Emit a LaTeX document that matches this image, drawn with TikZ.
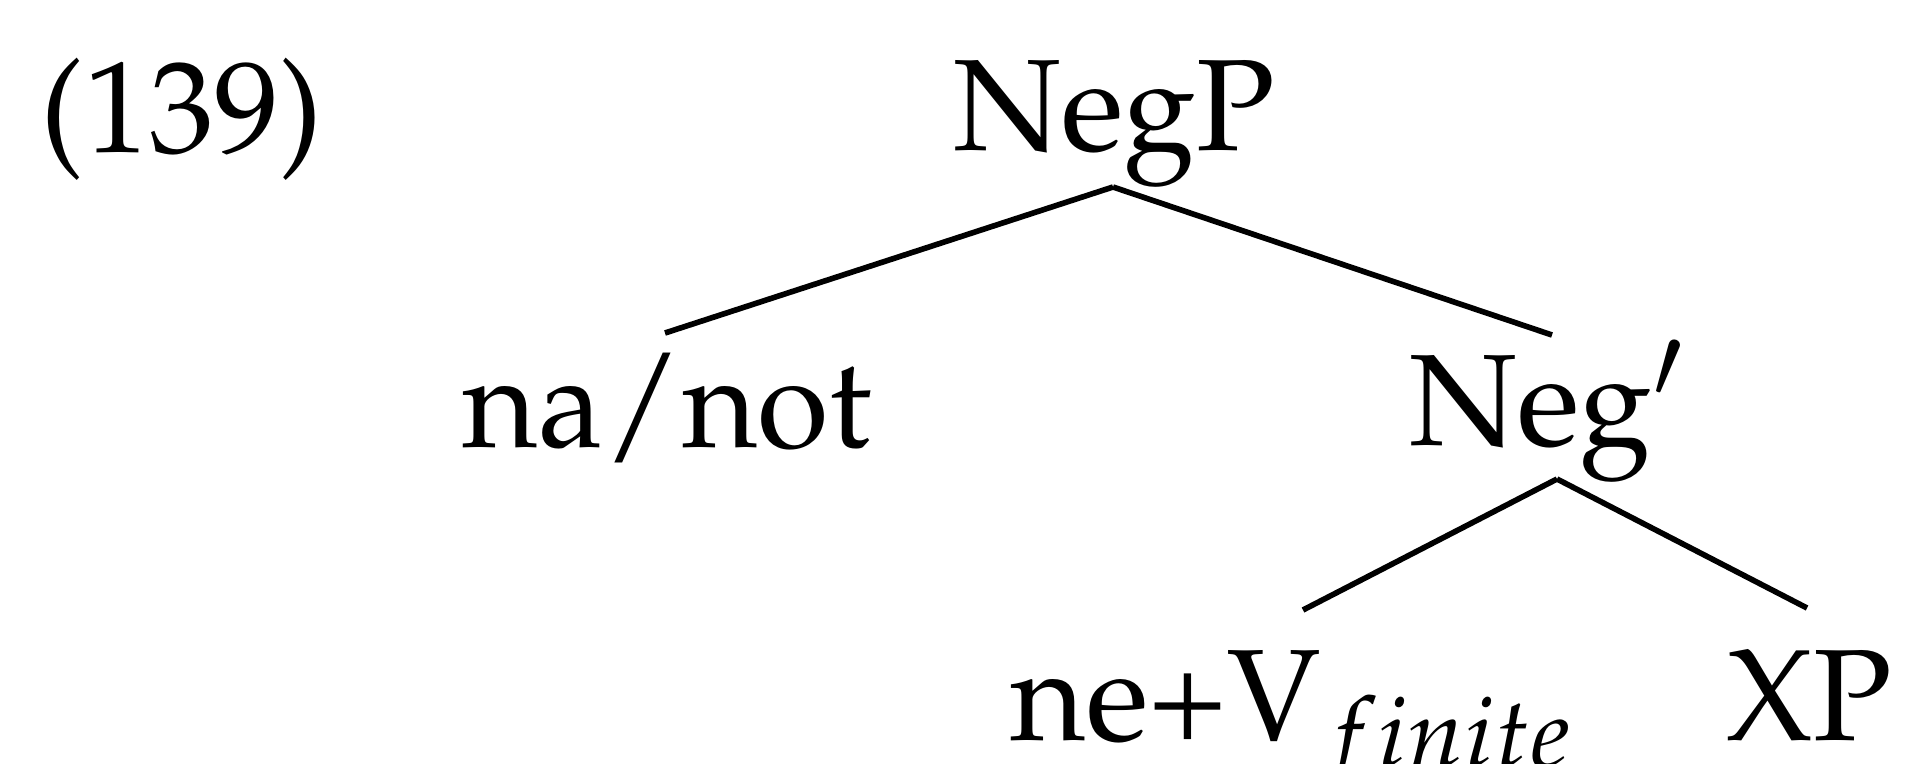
\documentclass[tikz,border=0pt]{standalone}
\usepackage[T1]{fontenc}
\usepackage{mathpazo}
\usepackage{tikz}
\usetikzlibrary{calc}

\begin{document}
\begin{tikzpicture}[x=0.01cm,y=-0.01cm,
  lbl/.style={anchor=base,inner sep=0pt,font=\fontsize{37}{44}\selectfont},
  branch/.style={line width=1.6pt}]
\useasboundingbox (0,0) rectangle (1906,763);
% example number and the labels of the tree
\node[lbl,anchor=base west] (exnum) at (40,152) {(139)};
\node[lbl] (negp) at (1114,150) {NegP};
\node[lbl] (nanot) at (667,447) {na/not};
\node[lbl] (negbar) at (1547,445) {Neg$'$};
\node[lbl,anchor=base west] (nev) at (1010,740) {ne+V$_{finite}$};
\node[lbl] (xp) at (1809,740) {XP};
% branches
\draw[branch] ($(negp.base)+(-1,37)$) -- ($(nanot.base)+(-2,-114)$);
\draw[branch] ($(negp.base)+(-1,37)$) -- ($(negbar.base)+(5,-110)$);
\draw[branch] ($(negbar.base)+(10,34)$) -- ($(nev.base west)+(293,-130)$);
\draw[branch] ($(negbar.base)+(10,34)$) -- ($(xp.base)+(-2,-132)$);
\end{tikzpicture}
\end{document}
